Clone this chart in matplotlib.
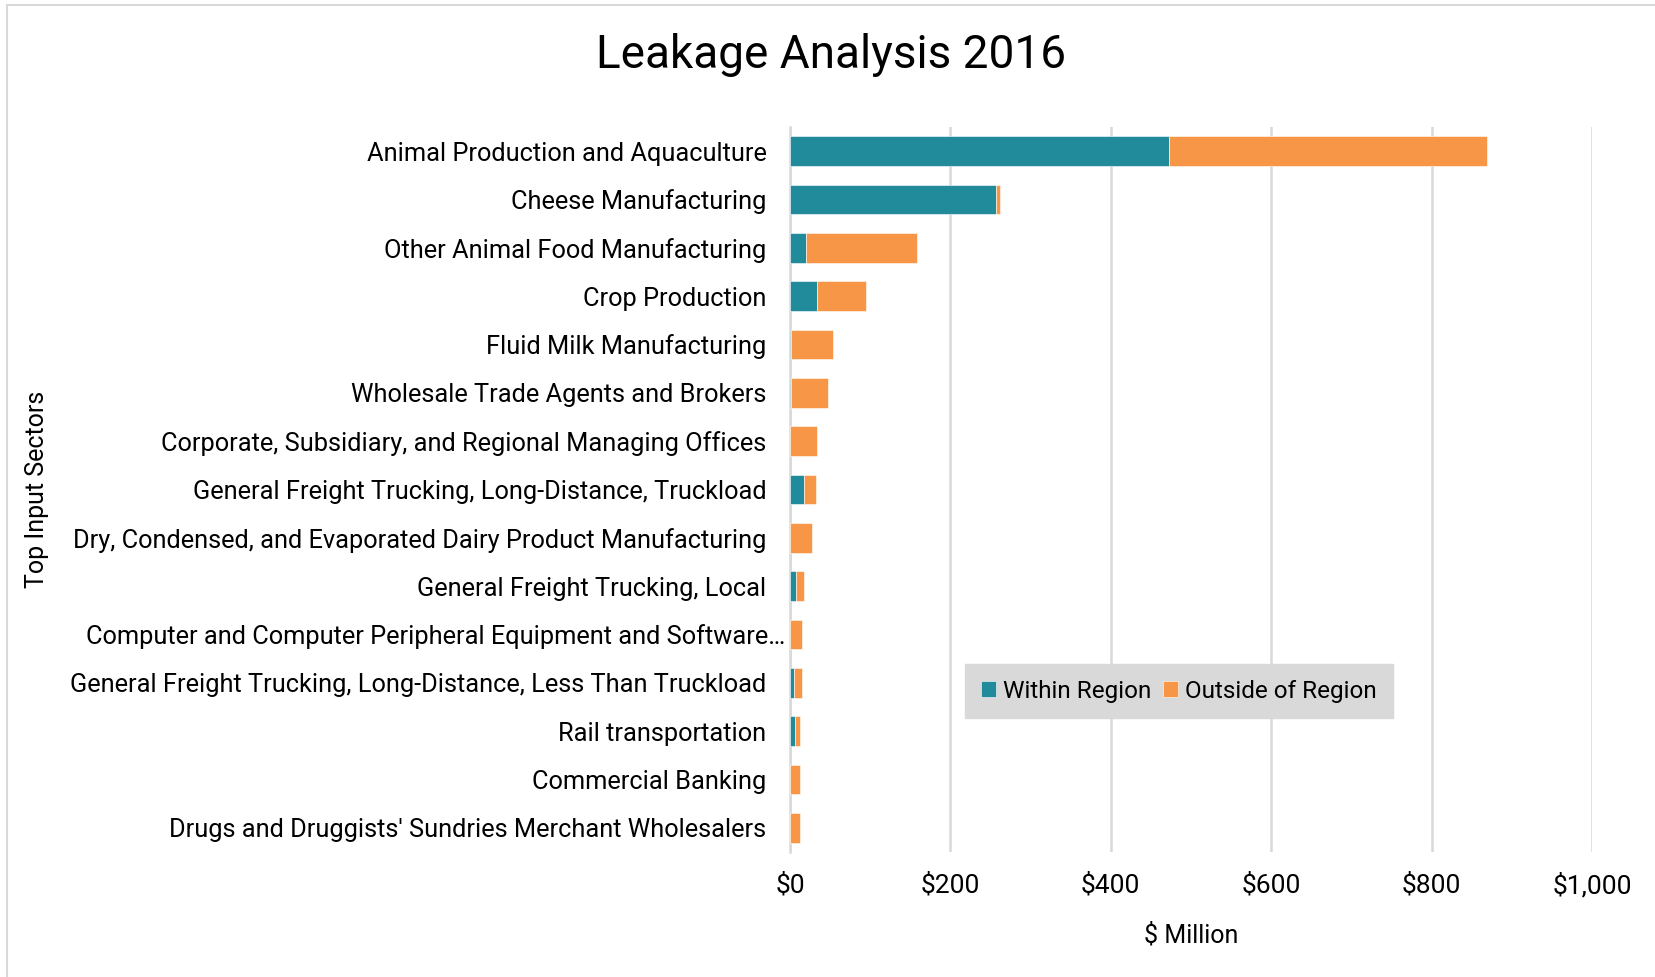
import matplotlib
matplotlib.use("Agg")
import matplotlib.pyplot as plt
from matplotlib.patches import Rectangle
from matplotlib.transforms import ScaledTranslation
import numpy as np

categories = [
    "Animal Production and Aquaculture",
    "Cheese Manufacturing",
    "Other Animal Food Manufacturing",
    "Crop Production",
    "Fluid Milk Manufacturing",
    "Wholesale Trade Agents and Brokers",
    "Corporate, Subsidiary, and Regional Managing Offices",
    "General Freight Trucking, Long-Distance, Truckload",
    "Dry, Condensed, and Evaporated Dairy Product Manufacturing",
    "General Freight Trucking, Local",
    "Computer and Computer Peripheral Equipment and Software\u2026",
    "General Freight Trucking, Long-Distance, Less Than Truckload",
    "Rail transportation",
    "Commercial Banking",
    "Drugs and Druggists' Sundries Merchant Wholesalers",
]
within_region = [472, 257, 20, 34, 1.5, 1.5, 0.5, 17, 0.5, 8, 0.5, 5, 6, 0.5, 0.5]
outside_region = [397, 5, 138, 61, 51.5, 46.5, 33.5, 16, 26.5, 9, 14.5, 10, 7, 12.5, 11.5]
xticks = [0, 200, 400, 600, 800, 1000]
xtick_labels = ["$0", "$200", "$400", "$600", "$800", "$1,000"]

TEAL = "#218B9C"
ORANGE = "#F79646"
FONT = ["Roboto", "DejaVu Sans"]
plt.rcParams["font.family"] = FONT

W, H = 1655, 977
fig = plt.figure(figsize=(W / 100, H / 100), dpi=100)
fig.patch.set_facecolor("white")

ax_l, ax_r, ax_t, ax_b = 790, 1592, 127, 852
ax = fig.add_axes([ax_l / W, 1 - ax_b / H, (ax_r - ax_l) / W, (ax_b - ax_t) / H])

y = np.arange(len(categories))
bh = 0.61
ax.barh(y, within_region, height=bh, color=TEAL, edgecolor="white", linewidth=0.4,
        label="Within Region", zorder=3)
ax.barh(y, outside_region, left=within_region, height=bh, color=ORANGE,
        edgecolor="white", linewidth=0.4, label="Outside of Region", zorder=3)

ax.set_xlim(0, 1000)
ax.set_ylim(len(categories) - 0.5, -0.5)
ax.set_xticks(xticks)
ax.set_xticklabels(xtick_labels, fontsize=19)
ax.set_yticks(y)
ax.set_yticklabels(categories, fontsize=18.3)
ax.tick_params(axis="both", length=0)
ax.tick_params(axis="y", pad=17)
ax.tick_params(axis="x", pad=15)

for lbl in ax.get_yticklabels():
    if lbl.get_text().endswith("\u2026"):
        lbl.set_transform(lbl.get_transform() + ScaledTranslation(0.19, 0, fig.dpi_scale_trans))

ax.grid(axis="x", color="#d9d9d9", linewidth=1.8, zorder=0)
ax.grid(axis="y", visible=False)
for s in ["top", "right", "bottom"]:
    ax.spines[s].set_visible(False)
ax.spines["left"].set_color("#d9d9d9")
ax.spines["left"].set_linewidth(1.8)
ax.set_axisbelow(True)

ax.set_xlabel("$ Million", fontsize=18, labelpad=18)
fig.text(37 / W, 1 - 489 / H, "Top Input Sectors", rotation=90, fontsize=18,
         ha="center", va="center")

fig.text(831 / W, 1 - 55 / H, "Leakage Analysis 2016", fontsize=33,
         ha="center", va="center")

leg = ax.legend(loc="center", bbox_to_anchor=(0.485, 0.222), ncol=2, fontsize=17.5,
                frameon=True, fancybox=False, facecolor="#d9d9d9", edgecolor="#d9d9d9",
                framealpha=1, handlelength=0.6, handleheight=0.6, handletextpad=0.3,
                columnspacing=0.5, borderpad=0.65, borderaxespad=0)

fig.patches.append(Rectangle((7 / W, -0.01), 1.02, 1 - 5 / H + 0.01,
                             transform=fig.transFigure, fill=False,
                             edgecolor="#d9d9d9", linewidth=1.5))

fig.savefig("out.png", dpi=100, facecolor="white")
